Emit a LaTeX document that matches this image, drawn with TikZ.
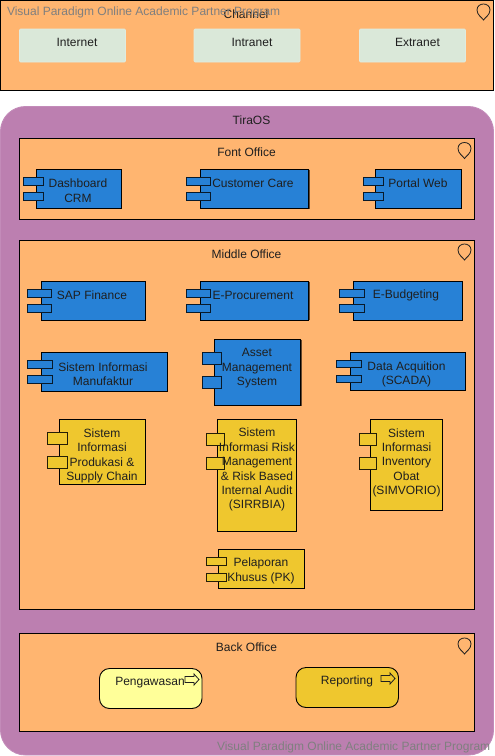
\documentclass[tikz,border=0pt]{standalone}
\usepackage{fontspec}
\setmainfont{Liberation Sans}
\definecolor{orangeb}{HTML}{FFB570}
\definecolor{purpleb}{HTML}{BC7FB0}
\definecolor{purpleedge}{HTML}{C38BB9}
\definecolor{greenb}{HTML}{DAE8D9}
\definecolor{blueb}{HTML}{2781D6}
\definecolor{yellowb}{HTML}{EFC72E}
\definecolor{lighty}{HTML}{FFFF99}
\definecolor{txtc}{HTML}{1F1F1F}
\definecolor{mark}{HTML}{7F7F7F}
\newcommand{\pbox}[6]{%
  \pgfmathsetmacro{\pw}{#4-#2}\pgfmathsetmacro{\ph}{#5-#3}%
  \pgfmathsetmacro{\pcx}{(#2+#4)/2}\pgfmathsetmacro{\pcy}{(#3+#5)/2}%
  \node[#6,minimum width=\pw pt,minimum height=\ph pt] (#1) at (\pcx,\pcy) {};}
\newcommand{\pin}[2]{%
  \draw[pinline,shift={(#1,#2)}] (0,9) .. controls (-1.5,6.5) and (-6.5,4) .. (-6.5,-1)
    .. controls (-6.5,-9) and (6.5,-9) .. (6.5,-1)
    .. controls (6.5,4) and (1.5,6.5) .. (0,9) -- cycle;}
\newcommand{\flowarrow}[3]{%
  \draw[pinline,fill=#3,shift={(#1,#2)}] (0,2.5) -- (9,2.5) -- (9,0) -- (14,5.5) -- (9,11) -- (9,8.5) -- (0,8.5) -- cycle;}
\tikzset{
  shapebase/.style={inner sep=0pt,outer sep=0pt,draw=black,line width=0.9pt},
  layer/.style={shapebase,fill=orangeb},
  tira/.style={shapebase,draw=purpleedge,fill=purpleb,rounded corners=25pt},
  channelitem/.style={inner sep=0pt,outer sep=0pt,draw=greenb!85!white,line width=0.6pt,fill=greenb,rounded corners=1pt},
  bluebody/.style={shapebase,fill=blueb},
  bluetab/.style={shapebase,fill=blueb,draw=black!80!blueb},
  yellowbody/.style={shapebase,fill=yellowb},
  yellowtab/.style={shapebase,fill=yellowb,draw=black!85!yellowb},
  procbox/.style={shapebase,rounded corners=10pt},
  lbl/.style={inner sep=0pt,outer sep=0pt,align=center,text=txtc,yshift=-1.2pt,font=\fontsize{12}{14.4}\selectfont},
  wm/.style={inner sep=0pt,outer sep=0pt,text=mark,font=\fontsize{12}{14.4}\selectfont,anchor=west},
  pinline/.style={draw=txtc,line width=0.8pt,line join=miter},
  edgeshade/.style={draw=black!60!orangeb,line width=0.8pt},
}
\begin{document}
\begin{tikzpicture}[x=1pt,y=-1pt]
\useasboundingbox (0,0) rectangle (495,756);
\fill[white] (0,0) rectangle (495,756);
% Channel
\pbox{channel}{0.5}{0.5}{493.5}{90}{layer}
\node[lbl] (channelt) at (246,13.5) {Channel};
\pin{483.5}{11}
\pbox{internet}{19.5}{29}{125.5}{62}{channelitem}
\node[lbl] (internett) at (77,41.5) {Internet};
\pbox{intranet}{194}{29}{300}{62}{channelitem}
\node[lbl] (intranett) at (252,41.5) {Intranet};
\pbox{extranet}{359.5}{29}{465.5}{62}{channelitem}
\node[lbl] (extranett) at (417.5,41.5) {Extranet};
% TiraOS
\pbox{tiraos}{0.5}{106.5}{493.5}{755}{tira}
\node[lbl] (tirat) at (251.5,119.5) {TiraOS};
% Font Office
\pbox{font}{19.5}{138.5}{474.5}{219.5}{layer}
\node[lbl] (fontt) at (246.5,151.5) {Font Office};
\pin{464.5}{149.5}
\pbox{dash}{36}{169.5}{121.5}{208.5}{bluebody}
\pbox{dasha}{23.5}{177.5}{43.5}{185}{bluetab}
\pbox{dashb}{23.5}{192.5}{43.5}{200.5}{bluetab}
\node[lbl] (dasht) at (78,189.5) {Dashboard\\CRM};
\pbox{care}{200}{169.5}{308}{208.5}{bluebody}
\draw[edgeshade] ([xshift=0.9pt]care.north east) -- ([xshift=0.9pt]care.south east);
\pbox{carea}{186}{177.5}{210.5}{185}{bluetab}
\pbox{careb}{186}{192.5}{210.5}{200.5}{bluetab}
\node[lbl] (caret) at (253,182.5) {Customer Care};
\pbox{portal}{375.5}{169.5}{461.5}{208.5}{bluebody}
\pbox{portala}{363.5}{177.5}{383.5}{185}{bluetab}
\pbox{portalb}{363.5}{192.5}{383.5}{200.5}{bluetab}
\node[lbl] (portalt) at (418,182.5) {Portal Web};
% Middle Office
\pbox{middle}{19.5}{240.5}{474.5}{609.5}{layer}
\node[lbl] (middlet) at (246.5,253.5) {Middle Office};
\pin{464.5}{251}
\pbox{sap}{41.5}{281.5}{145.5}{320}{bluebody}
\pbox{sapa}{27.5}{289.5}{51.5}{297}{bluetab}
\pbox{sapb}{27.5}{304.5}{51.5}{312.5}{bluetab}
\node[lbl] (sapt) at (92,294.5) {SAP Finance};
\pbox{proc}{200}{281.5}{308}{320}{bluebody}
\draw[edgeshade] ([xshift=0.9pt]proc.north east) -- ([xshift=0.9pt]proc.south east);
\pbox{proca}{186}{289.5}{210.5}{297}{bluetab}
\pbox{procb}{186}{304.5}{210.5}{312.5}{bluetab}
\node[lbl] (proct) at (253,294.5) {E-Procurement};
\pbox{budget}{353.5}{281.5}{462.5}{320}{bluebody}
\pbox{budgeta}{339.5}{289.5}{364.5}{297}{bluetab}
\pbox{budgetb}{339.5}{304.5}{364.5}{312.5}{bluetab}
\node[lbl] (budgett) at (406,294.5) {E-Budgeting};
\pbox{manu}{41.5}{352.5}{167.5}{391}{bluebody}
\pbox{manua}{27.5}{360.5}{52.5}{368}{bluetab}
\pbox{manub}{27.5}{375.5}{52.5}{383}{bluetab}
\node[lbl] (manut) at (103,373) {Sistem Informasi\\Manufaktur};
\pbox{asset}{214.5}{339.5}{300}{405.5}{bluebody}
\draw[edgeshade] ([xshift=0.9pt]asset.north east) -- ([xshift=0.9pt]asset.south east);
\pbox{asseta}{202}{352.5}{221.5}{364}{bluetab}
\pbox{assetb}{202}{376.5}{221.5}{388}{bluetab}
\node[lbl] (assett) at (257,367) {Asset\\Management\\System};
\pbox{scada}{350.5}{352.5}{465.5}{390}{bluebody}
\pbox{scadaa}{336.5}{360.5}{361.5}{367.5}{bluetab}
\pbox{scadab}{336.5}{375.5}{361.5}{382.5}{bluetab}
\node[lbl] (scadat) at (406.5,373) {Data Acquition\\(SCADA)};
\pbox{prod}{59.5}{419.5}{145.5}{484}{yellowbody}
\pbox{proda}{47.5}{432.5}{67.5}{444}{yellowtab}
\pbox{prodb}{47.5}{456.5}{67.5}{468}{yellowtab}
\node[lbl] (prodt) at (102,454.5) {Sistem\\Informasi\\Produkasi \&\\Supply Chain};
\pbox{risk}{217.5}{419.5}{296}{531}{yellowbody}
\pbox{riska}{206}{433.5}{224.5}{445}{yellowtab}
\pbox{riskb}{206}{457.5}{224.5}{469}{yellowtab}
\node[lbl] (riskt) at (257,468.5) {Sistem\\Informasi Risk\\Management\\\& Risk Based\\Internal Audit\\(SIRRBIA)};
\pbox{inv}{370}{419.5}{442}{510}{yellowbody}
\pbox{inva}{359.5}{433.5}{376}{445}{yellowtab}
\pbox{invb}{359.5}{457.5}{376}{469}{yellowtab}
\node[lbl] (invt) at (406.5,461.5) {Sistem\\Informasi\\Inventory\\Obat\\(SIMVORIO)};
\pbox{pk}{218.5}{549.5}{304}{588.5}{yellowbody}
\pbox{pka}{206}{557.5}{226}{565}{yellowtab}
\pbox{pkb}{206}{573}{226}{581}{yellowtab}
\node[lbl] (pkt) at (261,569.5) {Pelaporan\\Khusus (PK)};
% Back Office
\pbox{back}{19.5}{633.5}{474.5}{731.5}{layer}
\node[lbl] (backt) at (246.5,646.5) {Back Office};
\pin{464.5}{645}
\pbox{peng}{99.5}{668.5}{202}{708.5}{procbox,fill=lighty}
\node[lbl] (pengt) at (150,681.5) {Pengawasan};
\flowarrow{185}{674}{lighty}
\pbox{rep}{296}{667.5}{398.5}{707.5}{procbox,fill=yellowb}
\node[lbl] (rept) at (347,680.5) {Reporting};
\flowarrow{381}{673}{yellowb}
% Watermarks
\node[wm] (wma) at (7,12) {Visual Paradigm Online Academic Partner Program};
\node[wm] (wmb) at (217,747.5) {Visual Paradigm Online Academic Partner Program};
\end{tikzpicture}
\end{document}
